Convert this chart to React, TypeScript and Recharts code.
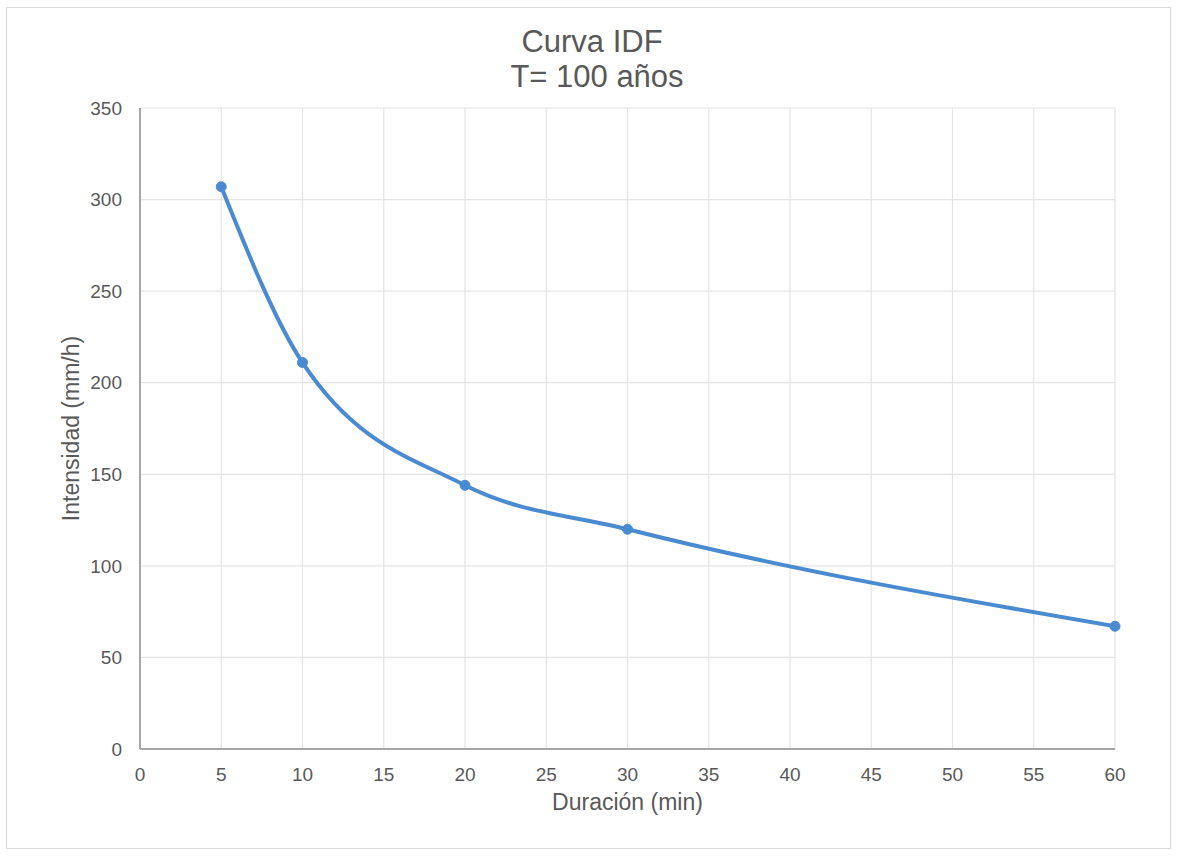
import React from "react";
import { LineChart, Line, XAxis, YAxis, CartesianGrid } from "recharts";

const durations = [5, 10, 20, 30, 60];
const intensities = [307, 211, 144, 120, 67];
const xTicks = [0, 5, 10, 15, 20, 25, 30, 35, 40, 45, 50, 55, 60];
const yTicks = [0, 50, 100, 150, 200, 250, 300, 350];

const data = durations.map((d, i) => ({ d, v: intensities[i] }));

const FONT = "'Liberation Sans', Arial, sans-serif";
const TEXT = "#595959";
const BLUE = "#4a8ad0";

export default function App() {
  return (
    <div style={{ position: "absolute", left: 0, top: 0, width: 1181, height: 857, background: "#fff", fontFamily: FONT }}>
      <div style={{ position: "absolute", left: 6, top: 7, width: 1165, height: 842, border: "1px solid #d9d9d9", boxSizing: "border-box" }} />
      <svg style={{ position: "absolute", left: 0, top: 0 }} width={1181} height={110}>
        <text x={592} y={52} textAnchor="middle" fontSize={31} fill={TEXT} fontFamily={FONT}>Curva IDF</text>
        <text x={597} y={87} textAnchor="middle" fontSize={31} fill={TEXT} fontFamily={FONT}>T= 100 años</text>
      </svg>
      <div style={{ position: "absolute", left: 0, top: 0 }}>
        <LineChart width={1181} height={857} data={data} margin={{ top: 108, right: 66, bottom: 38, left: 80 }}>
          <CartesianGrid stroke="#e4e4e4" strokeWidth={1.2} />
          <XAxis
            dataKey="d"
            type="number"
            domain={[0, 60]}
            ticks={xTicks}
            interval={0}
            height={70}
            tickLine={false}
            axisLine={{ stroke: "#a6a6a6", strokeWidth: 2 }}
            tick={{ fill: TEXT, fontSize: 19, fontFamily: FONT }}
            tickMargin={13}
            label={{ value: "Duración (min)", position: "insideBottom", offset: 9, fill: TEXT, fontSize: 23, fontFamily: FONT }}
          />
          <YAxis
            type="number"
            domain={[0, 350]}
            ticks={yTicks}
            interval={0}
            width={60}
            tickLine={false}
            axisLine={{ stroke: "#a6a6a6", strokeWidth: 2 }}
            tick={{ fill: TEXT, fontSize: 19, fontFamily: FONT }}
            tickMargin={12}
            label={{ value: "Intensidad (mm/h)", angle: -90, position: "insideLeft", offset: -9, fill: TEXT, fontSize: 23, fontFamily: FONT, style: { textAnchor: "middle" } }}
          />
          <Line
            dataKey="v"
            type="monotone"
            stroke={BLUE}
            strokeWidth={4}
            dot={{ r: 5, fill: BLUE, stroke: BLUE, strokeWidth: 1 }}
            isAnimationActive={false}
          />
        </LineChart>
      </div>
    </div>
  );
}
